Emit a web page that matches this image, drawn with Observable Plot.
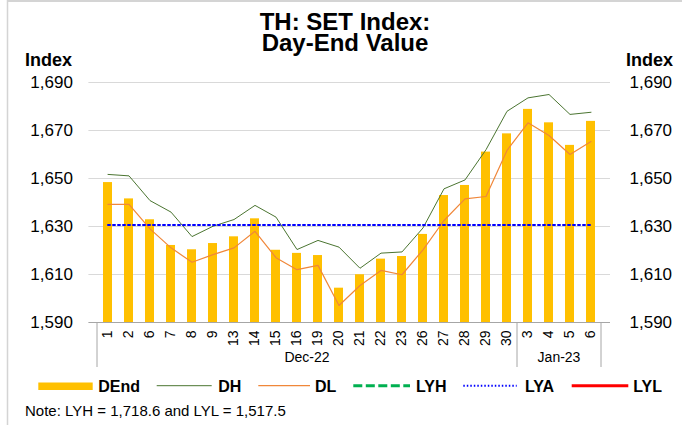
<!DOCTYPE html>
<html>
<head>
<meta charset="utf-8">
<script src="https://cdn.jsdelivr.net/npm/d3@7"></script>
<script src="https://cdn.jsdelivr.net/npm/@observablehq/plot@0.6"></script>
<style>
  html, body { margin: 0; padding: 0; background: #fff; }
  #chart { position: relative; width: 682px; height: 425px; overflow: hidden; }
</style>
</head>
<body>
<div id="chart"></div>
<script>
// ---- data ----
const days   = ["1","2","6","7","8","9","13","14","15","16","19","20","21","22","23","26","27","28","29","30","3","4","5","6"];
const months = ["Dec-22","Dec-22","Dec-22","Dec-22","Dec-22","Dec-22","Dec-22","Dec-22","Dec-22","Dec-22",
                "Dec-22","Dec-22","Dec-22","Dec-22","Dec-22","Dec-22","Dec-22","Dec-22","Dec-22","Dec-22",
                "Jan-23","Jan-23","Jan-23","Jan-23"];
const DEnd = [1648.3,1641.5,1632.8,1622.1,1620.3,1622.9,1625.7,1633.2,1620.1,1618.8,1617.9,1604.3,
              1609.9,1616.4,1617.5,1626.7,1642.9,1647.1,1661.0,1668.6,1678.8,1673.2,1663.8,1673.8];
const DH   = [1651.7,1651.1,1640.8,1636.0,1625.8,1630.1,1632.9,1638.8,1633.9,1620.4,1624.2,1621.4,
              1612.6,1618.9,1619.4,1629.4,1645.7,1649.4,1662.0,1678.0,1683.6,1685.0,1676.7,1677.6];
const DL   = [1639.2,1639.2,1629.0,1621.1,1615.1,1618.3,1621.1,1628.0,1617.0,1612.0,1613.8,1597.1,
              1605.4,1611.7,1609.9,1620.3,1632.5,1641.5,1642.5,1661.7,1673.2,1667.9,1660.0,1665.4];
const LYA = 1630.6;
const LYH = 1718.6;
const LYL = 1517.5;
const yTicks = [1590, 1610, 1630, 1650, 1670, 1690];
const titleLines = ["TH: SET Index:", "Day-End Value"];
const yLabel = "Index";
const legendItems = ["DEnd", "DH", "DL", "LYH", "LYA", "LYL"];
const noteText = "Note: LYH = " + d3.format(",.1f")(LYH) + " and LYL = " + d3.format(",.1f")(LYL);

// ---- build table ----
const keys = days.map((d, i) => months[i] + "|" + d);
const rows = keys.map((k, i) => ({key: k, day: days[i], month: months[i], DEnd: DEnd[i], DH: DH[i], DL: DL[i]}));

const FONT = "'Liberation Sans', Arial, Helvetica, sans-serif";
const C = {bar: "#ffc000", dh: "#4b7531", dl: "#f0873a", lyh: "#00b050", lya: "#0000ff", lyl: "#ff0000",
           grid: "#d9d9d9", axis: "#a6a6a6"};

const plot = Plot.plot({
  width: 682,
  height: 425,
  marginTop: 82,
  marginBottom: 103,
  marginLeft: 88.4,
  marginRight: 72,
  style: {fontFamily: FONT, fontSize: "17px", background: "white", color: "#000"},
  x: {domain: keys, paddingInner: 0.586, paddingOuter: 0.293, axis: null},
  y: {domain: [yTicks[0], yTicks[yTicks.length - 1]], axis: null},
  marks: [
    Plot.gridY(yTicks.slice(1), {stroke: C.grid, strokeOpacity: 1, strokeWidth: 1}),
    Plot.barY(rows, {x: "key", y1: () => yTicks[0], y2: "DEnd", fill: C.bar}),
    Plot.ruleY([yTicks[0]], {stroke: C.axis, strokeWidth: 1}),
    Plot.line(rows, {x: "key", y: "DH", stroke: C.dh, strokeWidth: 1}),
    Plot.line(rows, {x: "key", y: "DL", stroke: C.dl, strokeWidth: 1.2}),
    Plot.line(rows, {x: "key", y: () => LYA, stroke: C.lya, strokeWidth: 2, strokeDasharray: "2 3"}),
    Plot.axisY({anchor: "left", ticks: yTicks, tickSize: 0, tickPadding: 16, tickFormat: d3.format(","), label: null, fontSize: 17}),
    Plot.axisY({anchor: "right", ticks: yTicks, tickSize: 0, tickPadding: 19, tickFormat: d3.format(","), label: null, fontSize: 17}),
    Plot.axisX({anchor: "bottom", tickSize: 0, tickPadding: 8, tickRotate: -90, tickFormat: k => k.split("|")[1], label: null, fontSize: 14})
  ]
});

document.getElementById("chart").appendChild(plot);

// ---- decorations using the plot's own scales ----
const svg = d3.select(plot);
const xs = plot.scale("x");
const ys = plot.scale("y");
const gap = (xs.step - xs.bandwidth) / 2;
const startOf = i => xs.apply(keys[i]) - gap;
const endOf = i => xs.apply(keys[i]) + xs.bandwidth + gap;
const y0 = ys.apply(yTicks[0]);

// group boundaries & labels
const groups = [];
months.forEach((m, i) => {
  if (!groups.length || groups[groups.length - 1].name !== m) groups.push({name: m, start: i, end: i});
  else groups[groups.length - 1].end = i;
});
const bounds = [startOf(0), ...groups.map(g => endOf(g.end))];
svg.append("g").selectAll("line").data(bounds).join("line")
  .attr("x1", d => d).attr("x2", d => d).attr("y1", y0).attr("y2", y0 + 45)
  .attr("stroke", C.axis).attr("stroke-width", 1);
svg.append("g").selectAll("text").data(groups).join("text")
  .attr("x", g => (startOf(g.start) + endOf(g.end)) / 2).attr("y", y0 + 40)
  .attr("text-anchor", "middle").attr("font-size", 14).attr("fill", "#000").text(g => g.name);

// frame border (top & left)
svg.append("line").attr("x1", 7.5).attr("x2", 682).attr("y1", 1).attr("y2", 1).attr("stroke", "#d4d4d4").attr("stroke-width", 2);
svg.append("line").attr("x1", 7.5).attr("x2", 7.5).attr("y1", 0).attr("y2", 425).attr("stroke", "#d4d4d4").attr("stroke-width", 1.5);

// title
svg.append("g").selectAll("text").data(titleLines).join("text")
  .attr("x", 345).attr("y", (d, i) => 29.5 + i * 21)
  .attr("text-anchor", "middle").attr("font-size", 24).attr("font-weight", "bold").attr("fill", "#000").text(d => d);

// axis titles
svg.append("text").attr("x", 25).attr("y", 66).attr("text-anchor", "start").attr("font-size", 18).attr("font-weight", "bold").attr("fill", "#000").text(yLabel);
svg.append("text").attr("x", 626).attr("y", 66).attr("text-anchor", "start").attr("font-size", 18).attr("font-weight", "bold").attr("fill", "#000").text(yLabel);

// legend
const lg = svg.append("g").attr("font-size", 16).attr("font-weight", "bold").attr("fill", "#000").attr("text-anchor", "start");
const ly = 385.7;
lg.append("rect").attr("x", 38.3).attr("y", 382.5).attr("width", 54.4).attr("height", 7.5).attr("fill", C.bar);
const legLines = [
  {x1: 156.7, x2: 211.7, stroke: C.dh, w: 1, dash: null},
  {x1: 258.3, x2: 310, stroke: C.dl, w: 1.2, dash: null},
  {x1: 353.3, x2: 410, stroke: C.lyh, w: 3, dash: "9 3.5"},
  {x1: 463.3, x2: 516.7, stroke: C.lya, w: 2, dash: "1.5 2"},
  {x1: 571.7, x2: 628.3, stroke: C.lyl, w: 3, dash: null}
];
legLines.forEach(l => {
  const ln = lg.append("line").attr("x1", l.x1).attr("x2", l.x2).attr("y1", ly).attr("y2", ly)
    .attr("stroke", l.stroke).attr("stroke-width", l.w);
  if (l.dash) ln.attr("stroke-dasharray", l.dash);
});
const legTextX = [98.3, 218.3, 315, 416, 525, 633.3];
legendItems.forEach((t, i) => {
  lg.append("text").attr("x", legTextX[i]).attr("y", 391.7).text(t);
});

// note
svg.append("text").attr("x", 25).attr("y", 415.7).attr("text-anchor", "start").attr("font-size", 15).attr("fill", "#000").text(noteText);
</script>
</body>
</html>
